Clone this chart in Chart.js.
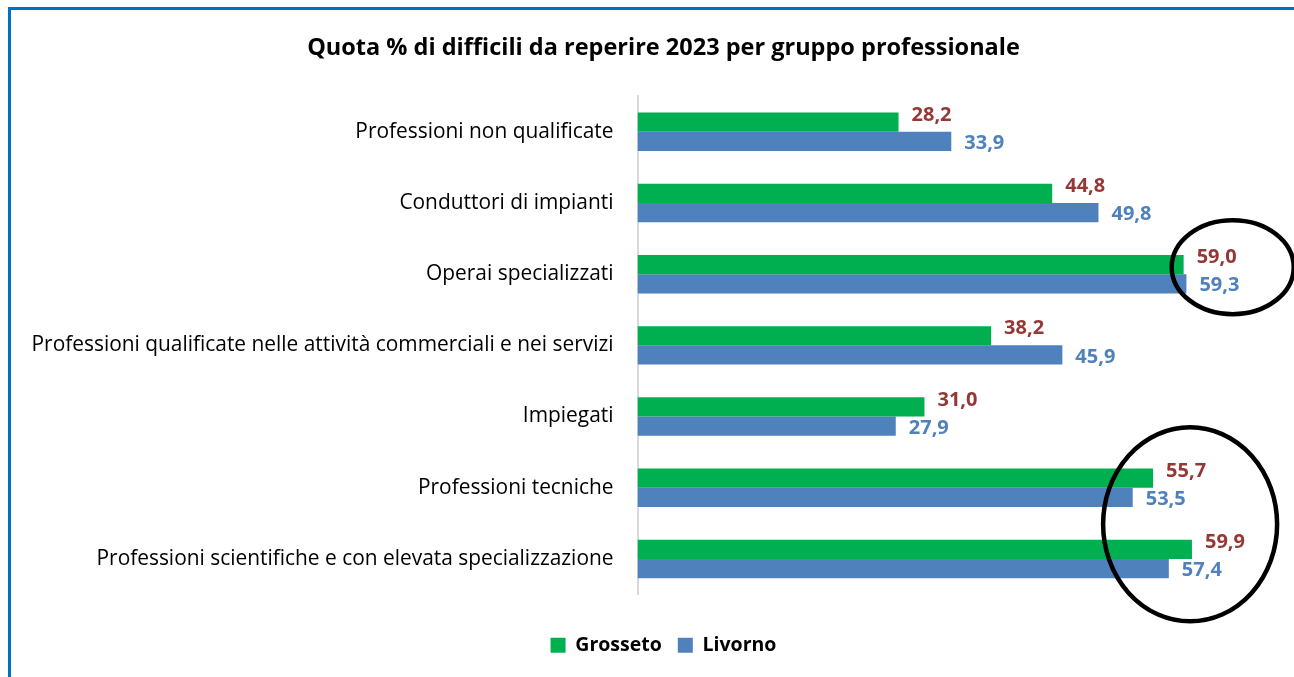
<!DOCTYPE html>
<html>
<head>
<meta charset="utf-8">
<script src="https://cdn.jsdelivr.net/npm/chart.js@4/dist/chart.umd.min.js"></script>
<style>
  html, body { margin: 0; padding: 0; background: #fff; overflow: hidden; }
  #frame {
    position: absolute; left: 8px; top: 7px;
    width: 1340px; height: 720px;
    border-left: 3px solid #0070C0; border-top: 3px solid #0070C0;
  }
  #wrap { position: absolute; left: 0; top: 0; width: 1305px; height: 658px; }
</style>
</head>
<body>
<div id="frame"><div id="wrap"><canvas id="quota"></canvas></div></div>
<script>
var categories = [
  'Professioni non qualificate',
  'Conduttori di impianti',
  'Operai specializzati',
  'Professioni qualificate nelle attività commerciali e nei servizi',
  'Impiegati',
  'Professioni tecniche',
  'Professioni scientifiche e con elevata specializzazione'
];
var grosseto = [28.2, 44.8, 59.0, 38.2, 31.0, 55.7, 59.9];
var livorno = [33.9, 49.8, 59.3, 45.9, 27.9, 53.5, 57.4];

var labelColors = ['#953735', '#4F81BD'];
var labelShift = [-7, 2];

// value labels next to the bar ends
var valueLabels = {
  id: 'valueLabels',
  afterDatasetsDraw: function (chart) {
    var ctx = chart.ctx;
    ctx.save();
    ctx.font = 'bold 20px "Open Sans"';
    ctx.textBaseline = 'middle';
    ctx.textAlign = 'left';
    chart.data.datasets.forEach(function (ds, i) {
      var meta = chart.getDatasetMeta(i);
      meta.data.forEach(function (bar, j) {
        ctx.fillStyle = labelColors[i];
        ctx.fillText(ds.data[j].toFixed(1).replace('.', ','), bar.x + 13, bar.y + labelShift[i]);
      });
    });
    ctx.restore();
  }
};

// hand-drawn ellipses of the original slide
var rings = {
  id: 'rings',
  afterDraw: function (chart) {
    var ctx = chart.ctx;
    var x = chart.scales.x, y = chart.scales.y;
    ctx.save();
    ctx.strokeStyle = '#000';
    ctx.lineWidth = 4.5;
    ctx.beginPath();
    ctx.ellipse(x.getPixelForValue(64.3), y.getPixelForValue(2) - 7, 61, 47, 0, 0, Math.PI * 2);
    ctx.stroke();
    ctx.beginPath();
    ctx.ellipse(x.getPixelForValue(59.7), (y.getPixelForValue(5) + y.getPixelForValue(6)) / 2 + 1, 87, 97, 0, 0, Math.PI * 2);
    ctx.stroke();
    ctx.restore();
  }
};

var ctx = document.getElementById('quota');
new Chart(ctx, {
  type: 'bar',
  data: {
    labels: categories,
    datasets: [{
      label: 'Grosseto',
      data: grosseto,
      backgroundColor: '#00B050',
      borderWidth: 0,
      categoryPercentage: 0.54,
      barPercentage: 1
    },
    {
      label: 'Livorno',
      data: livorno,
      backgroundColor: '#4F81BD',
      borderWidth: 0,
      categoryPercentage: 0.54,
      barPercentage: 1
    }]
  },
  options: {
    indexAxis: 'y',
    responsive: true,
    maintainAspectRatio: false,
    animation: false,
    layout: { padding: { left: 0, right: 0, top: 0, bottom: 3 } },
    scales: {
      x: {
        min: 0,
        max: 73.3,
        grid: { display: false, drawTicks: false },
        border: { display: false },
        ticks: { display: false },
        afterFit: function (scale) { scale.height = 25; }
      },
      y: {
        grid: { display: false, drawTicks: false },
        border: { display: true, color: '#D9D9D9', width: 2 },
        ticks: {
          color: '#000',
          padding: 24,
          font: { family: '"Open Sans"', size: 20.9 }
        },
        afterFit: function (scale) { scale.width = 626.5; }
      }
    },
    plugins: {
      title: {
        display: true,
        text: 'Quota % di difficili da reperire 2023 per gruppo professionale',
        color: '#000',
        font: { family: '"Open Sans"', size: 23.5, weight: 'bold' },
        padding: { top: 24, bottom: 34 }
      },
      legend: {
        position: 'bottom',
        labels: {
          color: '#000',
          boxWidth: 15,
          boxHeight: 15,
          padding: 16,
          font: { family: '"Open Sans"', size: 19.5, weight: 'bold' }
        }
      },
      tooltip: { enabled: false }
    }
  },
  plugins: [valueLabels, rings]
});
</script>
</body>
</html>
